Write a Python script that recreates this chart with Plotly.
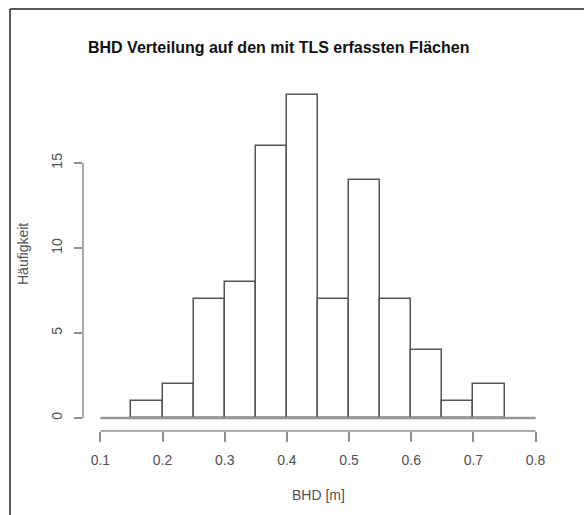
import plotly.graph_objects as go

# ---- data ----
bin_edges = [0.15, 0.20, 0.25, 0.30, 0.35, 0.40, 0.45, 0.50, 0.55, 0.60, 0.65, 0.70, 0.75]
counts = [1, 2, 7, 8, 16, 19, 7, 14, 7, 4, 1, 2]
x_ticks = [0.1, 0.2, 0.3, 0.4, 0.5, 0.6, 0.7, 0.8]
x_tick_labels = ["0.1", "0.2", "0.3", "0.4", "0.5", "0.6", "0.7", "0.8"]
y_ticks = [0, 5, 10, 15]
y_tick_labels = ["0", "5", "10", "15"]
title_text = "<b>BHD Verteilung auf den mit TLS erfassten Flächen</b>"
x_label = "BHD [m]"
y_label = "Häufigkeit"

W, H = 584, 515
FONT = "Liberation Sans, Arial, sans-serif"
AXIS_GRAY = "#8f8f8f"
BAR_LINE = "#555555"
TEXT_GRAY = "#505050"

centers = [(a + b) / 2 for a, b in zip(bin_edges[:-1], bin_edges[1:])]
widths = [b - a for a, b in zip(bin_edges[:-1], bin_edges[1:])]

# plot region (pixels)
px_l, px_r = 83, 553
py_t, py_b = 82, 431
x_dom = [px_l / W, px_r / W]
y_dom = [(H - py_b) / H, (H - py_t) / H]

xmin, xmax = x_ticks[0], x_ticks[-1]
xpad = (xmax - xmin) * 0.04
ymax = max(counts)
ypad = ymax * 0.04

fig = go.Figure()
fig.add_trace(go.Bar(
    x=centers, y=counts, width=widths,
    marker=dict(color="white", line=dict(color=BAR_LINE, width=1.5)),
    showlegend=False, hoverinfo="x+y",
))

shapes = [
    # baseline at 0
    dict(type="line", xref="x", yref="y", x0=xmin, x1=xmax, y0=0, y1=0,
         line=dict(color="#959595", width=2.5), layer="above"),
    # x axis line
    dict(type="line", xref="x", yref="paper", x0=xmin, x1=xmax, y0=y_dom[0], y1=y_dom[0],
         line=dict(color=AXIS_GRAY, width=1.5)),
    # y axis line
    dict(type="line", xref="paper", yref="y", x0=x_dom[0], x1=x_dom[0], y0=y_ticks[0], y1=y_ticks[-1],
         line=dict(color=AXIS_GRAY, width=1.5)),
    # outer frame (top and left)
    dict(type="line", xref="paper", yref="paper", x0=10 / W, x1=1, y0=1 - 9 / H, y1=1 - 9 / H,
         line=dict(color="#222222", width=1.5)),
    dict(type="line", xref="paper", yref="paper", x0=10 / W, x1=10 / W, y0=0, y1=1 - 9 / H,
         line=dict(color="#222222", width=1.5)),
]

annotations = [
    dict(text=title_text, xref="paper", yref="paper", x=278 / W, y=1 - 47 / H,
         showarrow=False, xanchor="center", yanchor="middle",
         font=dict(family=FONT, size=16, color="#111111")),
    dict(text=x_label, xref="paper", yref="paper", x=318 / W, y=1 - 495 / H,
         showarrow=False, xanchor="center", yanchor="middle",
         font=dict(family=FONT, size=14, color=TEXT_GRAY)),
    dict(text=y_label, xref="paper", yref="paper", x=23 / W, y=1 - 254 / H,
         showarrow=False, xanchor="center", yanchor="middle", textangle=-90,
         font=dict(family=FONT, size=14, color=TEXT_GRAY)),
]

fig.update_layout(
    width=W, height=H,
    margin=dict(l=0, r=0, t=0, b=0),
    paper_bgcolor="white", plot_bgcolor="white",
    bargap=0,
    shapes=shapes,
    annotations=annotations,
    xaxis=dict(domain=x_dom, range=[xmin - xpad, xmax + xpad],
               tickvals=x_ticks, ticktext=x_tick_labels,
               ticks="outside", ticklen=10, tickwidth=1.5, tickcolor=AXIS_GRAY,
               ticklabelstandoff=6,
               showline=False, showgrid=False, zeroline=False,
               tickfont=dict(family=FONT, size=14, color=TEXT_GRAY)),
    yaxis=dict(domain=y_dom, range=[-ypad, ymax + ypad],
               tickvals=y_ticks, ticktext=y_tick_labels,
               ticks="outside", ticklen=8, tickwidth=1.5, tickcolor=AXIS_GRAY,
               tickangle=-90, ticklabelstandoff=6,
               showline=False, showgrid=False, zeroline=False,
               tickfont=dict(family=FONT, size=14, color=TEXT_GRAY)),
)

fig.write_html("out.html")
